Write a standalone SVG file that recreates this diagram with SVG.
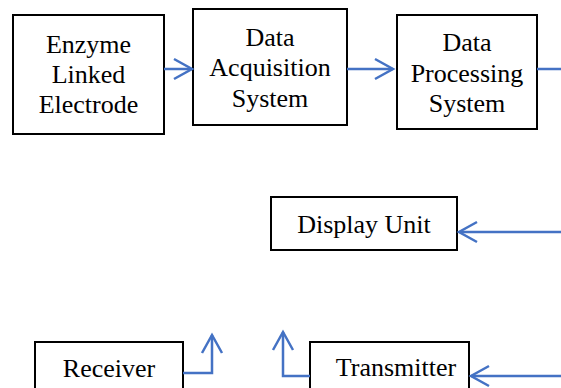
<svg xmlns="http://www.w3.org/2000/svg" width="561" height="388" viewBox="0 0 561 388">
<defs>
<style>
.box{fill:#fff;stroke:#000;stroke-width:2}
.t{font-family:"Liberation Serif","Times New Roman",serif;font-size:26px;fill:#000;text-anchor:middle}
.c{fill:none;stroke:#4472C4;stroke-width:2.5}
</style>
<marker id="ah" markerUnits="userSpaceOnUse" markerWidth="30" markerHeight="30" viewBox="-22 -15 30 30" refX="0" refY="0" orient="auto" overflow="visible">
<path d="M-18,-10 L0,0 L-18,10" fill="none" stroke="#4472C4" stroke-width="2.5"/>
</marker>
</defs>
<rect width="561" height="388" fill="#fff"/>
<g id="enzyme">
<rect class="box" x="13" y="15" width="151" height="119"/>
<text class="t" x="88.5" y="53">Enzyme</text>
<text class="t" x="88.5" y="83">Linked</text>
<text class="t" x="88.5" y="113">Electrode</text>
</g>
<g id="daq">
<rect class="box" x="193" y="9" width="154" height="116"/>
<text class="t" x="270" y="46">Data</text>
<text class="t" x="270" y="76">Acquisition</text>
<text class="t" x="270" y="107">System</text>
</g>
<g id="dps">
<rect class="box" x="397" y="15" width="140" height="114"/>
<text class="t" x="467" y="51">Data</text>
<text class="t" x="467" y="82">Processing</text>
<text class="t" x="467" y="112">System</text>
</g>
<g id="display">
<rect class="box" x="271" y="197" width="186" height="53"/>
<text class="t" x="364" y="233">Display Unit</text>
</g>
<g id="receiver">
<rect class="box" x="35" y="342" width="148" height="60"/>
<text class="t" x="109" y="377">Receiver</text>
</g>
<g id="transmitter">
<rect class="box" x="310" y="342" width="159" height="60"/>
<text class="t" x="396" y="376">Transmitter</text>
</g>
<g id="connectors">
<path class="c" d="M164,69 H192" marker-end="url(#ah)"/>
<path class="c" d="M347,69 H393" marker-end="url(#ah)"/>
<path class="c" d="M537,69 H561"/>
<path class="c" d="M561,232 H459" marker-end="url(#ah)"/>
<path class="c" d="M183,373 H212 V335" marker-end="url(#ah)"/>
<path class="c" d="M310,376 H283 V332" marker-end="url(#ah)"/>
<path class="c" d="M561,376 H471" marker-end="url(#ah)"/>
</g>
</svg>
